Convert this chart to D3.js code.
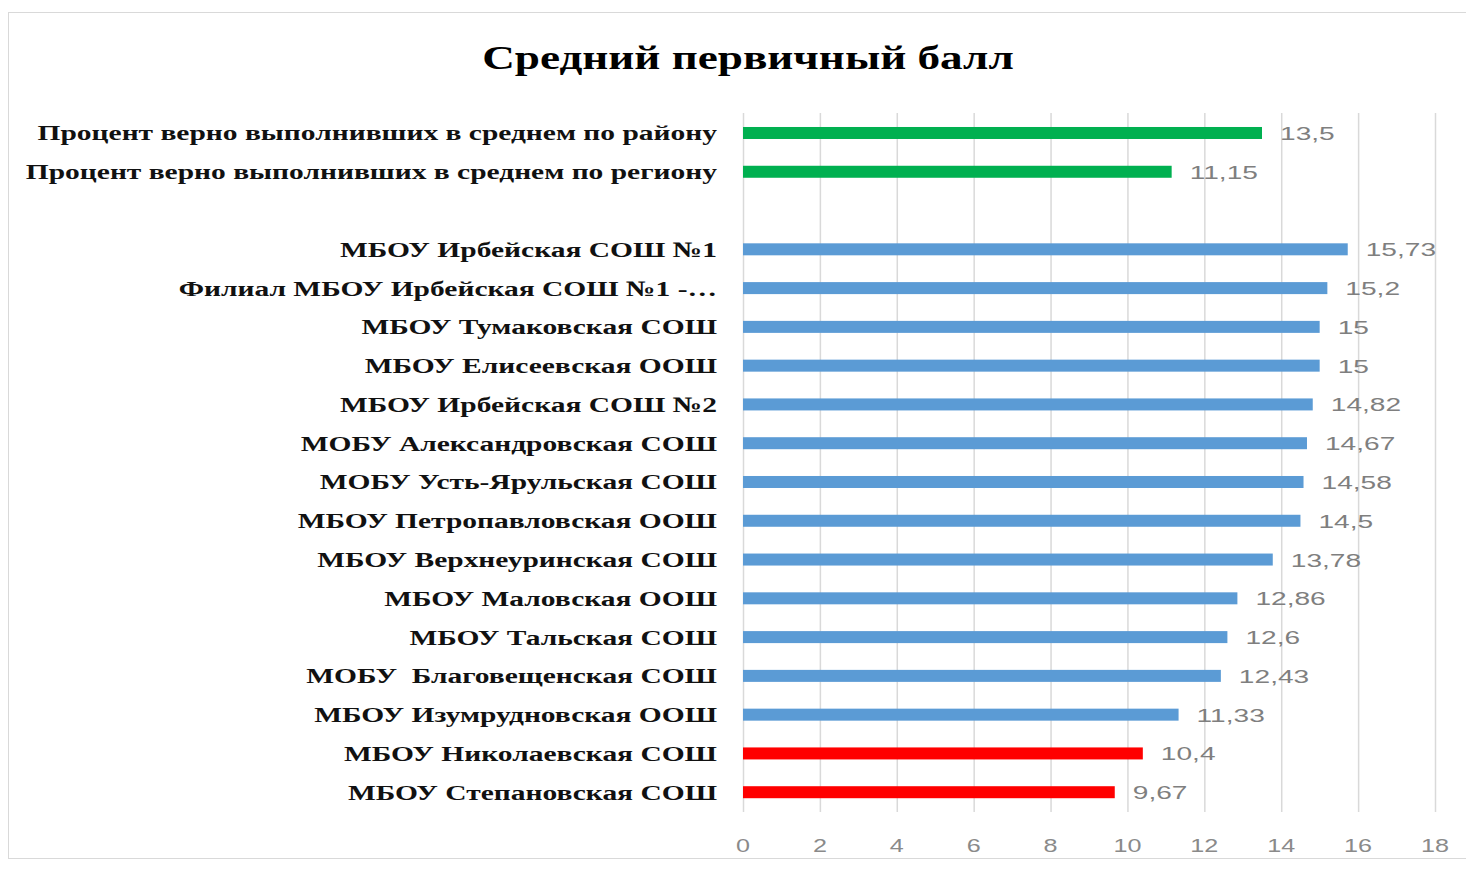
<!DOCTYPE html>
<html><head><meta charset="utf-8">
<script src="https://cdn.jsdelivr.net/npm/d3@7"></script>
<style>body{margin:0;background:#fff;}svg{display:block;}</style>
</head><body>
<svg id="c" width="1466" height="869"></svg>
<script>
const categories = [
  "Процент верно выполнивших в среднем по району",
  "Процент верно выполнивших в среднем по региону",
  "",
  "МБОУ Ирбейская СОШ №1",
  "Филиал МБОУ Ирбейская СОШ №1 -…",
  "МБОУ Тумаковская СОШ",
  "МБОУ Елисеевская ООШ",
  "МБОУ Ирбейская СОШ №2",
  "МОБУ Александровская СОШ",
  "МОБУ Усть-Ярульская СОШ",
  "МБОУ Петропавловская ООШ",
  "МБОУ Верхнеуринская СОШ",
  "МБОУ Маловская ООШ",
  "МБОУ Тальская СОШ",
  "МОБУ  Благовещенская СОШ",
  "МБОУ Изумрудновская ООШ",
  "МБОУ Николаевская СОШ",
  "МБОУ Степановская СОШ"
];
const values = [13.5, 11.15, null, 15.73, 15.2, 15, 15, 14.82, 14.67, 14.58, 14.5, 13.78, 12.86, 12.6, 12.43, 11.33, 10.4, 9.67];
const groups = ["avg","avg","none","school","school","school","school","school","school","school","school","school","school","school","school","school","low","low"];
const xTicks = [0,2,4,6,8,10,12,14,16,18];
const titleText = "Средний первичный балл";
const colors = {avg:"#00B050", school:"#5B9BD5", low:"#FF0000"};

const serif = "'Liberation Serif','Times New Roman',serif";
const sans = "'Liberation Sans',Arial,sans-serif";

const svg = d3.select("#c");
svg.append("rect").attr("x",8.5).attr("y",12.5).attr("width",1480).attr("height",846)
  .attr("fill","#fff").attr("stroke","#d9d9d9");

// stretched text helper (reference is horizontally stretched)
function stext(g, x, y, sx, txt) {
  return g.append("g").attr("transform",`translate(${x},${y}) scale(${sx},1)`)
    .append("text").text(txt);
}

stext(svg, 748, 69, 1.37, titleText)
  .attr("text-anchor","middle").attr("font-family",serif).attr("font-weight","bold")
  .attr("font-size",33).attr("fill","#000");

const x = d3.scaleLinear().domain([0,18]).range([743,1435]);
const y = d3.scaleBand().domain(d3.range(categories.length)).range([113.6,811.6]);

// grid
svg.append("g").selectAll("line").data(xTicks).join("line")
  .attr("x1",d=>x(d)+0.5).attr("x2",d=>x(d)+0.5).attr("y1",113).attr("y2",812)
  .attr("stroke","#d9d9d9").attr("stroke-width",1.5);

// x axis tick labels
const gx = svg.append("g");
xTicks.forEach(t => {
  stext(gx, x(t), 852, 1.4, String(t))
    .attr("text-anchor","middle").attr("font-family",sans)
    .attr("font-size",18).attr("fill","#8a8a8a");
});

const barH = 12;
const idx = d3.range(categories.length).filter(i=>values[i]!==null);
svg.append("g").selectAll("rect").data(idx).join("rect")
  .attr("x",x(0)).attr("y",i=>y(i)+y.bandwidth()/2-barH/2)
  .attr("width",i=>x(values[i])-x(0)).attr("height",barH)
  .attr("fill",i=>colors[groups[i]]);

// value labels
const fmt = v => String(v).replace(".", ",");
const gv = svg.append("g");
idx.forEach(i => {
  stext(gv, x(values[i])+18, y(i)+y.bandwidth()/2+7, 1.48, fmt(values[i]))
    .attr("font-family",sans).attr("font-size",19).attr("fill","#7f7f7f");
});

// category labels
const gy = svg.append("g");
categories.forEach((c,i) => {
  if (!c) return;
  stext(gy, 717, y(i)+y.bandwidth()/2+7.5, 1.34, c)
    .attr("text-anchor","end").attr("font-family",serif).attr("font-weight","bold")
    .attr("font-size",22).attr("fill","#111").attr("xml:space","preserve");
});
</script>
</body></html>
